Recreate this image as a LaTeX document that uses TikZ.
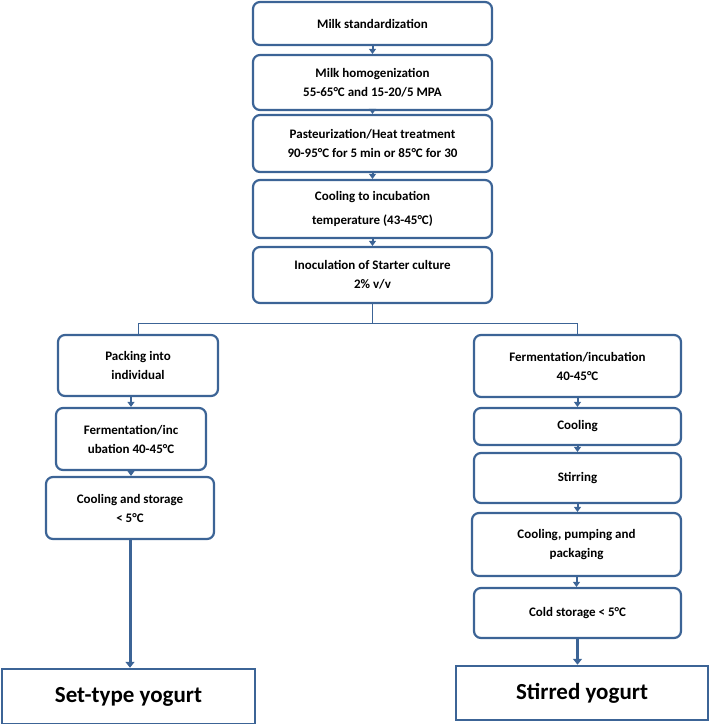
\documentclass[tikz,border=0pt]{standalone}
\usepackage{fontspec}
\setmainfont{Carlito}
\usetikzlibrary{arrows.meta}
\definecolor{bb}{HTML}{3C6496}
\tikzset{
 box/.style={draw=bb,line width=2.2pt,rounded corners=7pt,fill=white,align=center,font=\bfseries\fontsize{13}{19}\selectfont,inner sep=2pt},
 big/.style={draw=bb,line width=2.5pt,fill=white,align=center,font=\bfseries\fontsize{23}{26}\selectfont},
 sarr/.style={draw=bb,line width=2pt,-{Triangle[width=7pt,length=5pt]}},
 barr/.style={draw=bb,line width=3pt,-{Triangle[width=9pt,length=6pt]}},
 thin/.style={draw=bb,line width=0.8pt}
}
\begin{document}
\begin{tikzpicture}[x=1pt,y=-1pt]
\useasboundingbox (0,0) rectangle (710,724);
\node[box,minimum width=239pt,minimum height=43pt] (b1) at (372.5,23.5) {Milk standardization};
\node[box,minimum width=239pt,minimum height=55pt] (b2) at (372.5,82.5) {Milk homogenization\\55-65°C and 15-20/5 MPA};
\node[box,minimum width=239pt,minimum height=57pt] (b3) at (372.5,143.5) {Pasteurization/Heat treatment\\90-95°C for 5 min or 85°C for 30};
\node[box,minimum width=239pt,minimum height=58pt,font=\bfseries\fontsize{13}{24}\selectfont] (b4) at (372.5,209) {Cooling to incubation\\temperature (43-45°C)};
\node[box,minimum width=239pt,minimum height=56pt] (b5) at (372.5,275) {Inoculation of Starter culture\\2\% v/v};
\node[box,minimum width=160pt,minimum height=61pt] (l1) at (138,365.5) {Packing into\\individual};
\node[box,minimum width=150pt,minimum height=62pt] (l2) at (131,439) {Fermentation/inc\\ubation 40-45°C};
\node[box,minimum width=168pt,minimum height=62pt] (l3) at (130,508) {Cooling and storage\\< 5°C};
\node[big,minimum width=253pt,minimum height=55pt] (set) at (128.5,696.5) {Set-type yogurt};
\node[box,minimum width=207pt,minimum height=62pt] (r1) at (577.5,366) {Fermentation/incubation\\40-45°C};
\node[box,minimum width=207pt,minimum height=37pt] (r2) at (577.5,426.5) {Cooling};
\node[box,minimum width=207pt,minimum height=50pt] (r3) at (577.5,478) {Stirring};
\node[box,minimum width=209pt,minimum height=63pt] (r4) at (576.5,544.5) {Cooling, pumping and\\packaging};
\node[box,minimum width=207pt,minimum height=50pt] (r5) at (577.5,613) {Cold storage < 5°C};
\node[big,minimum width=252pt,minimum height=54pt] (stir) at (582,693) {Stirred yogurt};
\coordinate (j) at (372.5,323);
\draw[sarr] (b1) -- (b2);
\draw[sarr] (b2) -- (b3);
\draw[sarr] (b3) -- (b4);
\draw[sarr] (b4) -- (b5);
\draw[thin] (b5.south) -- (j);
\draw[thin] (j) -| (l1.north);
\draw[thin] (j) -| (r1.north);
\draw[sarr] (l1.south -| l2.north) -- (l2.north);
\draw[sarr] (l2) -- (l2.south |- l3.north);
\draw[barr] (l3.south) -- (l3.south |- set.north);
\draw[sarr] (r1) -- (r2);
\draw[sarr] (r2) -- (r3);
\draw[sarr] (r3.south) -- (r3.south |- r4.north);
\draw[sarr] (r4.south) -- (r4.south |- r5.north);
\draw[barr] (r5.south) -- (r5.south |- stir.north);
\end{tikzpicture}
\end{document}
